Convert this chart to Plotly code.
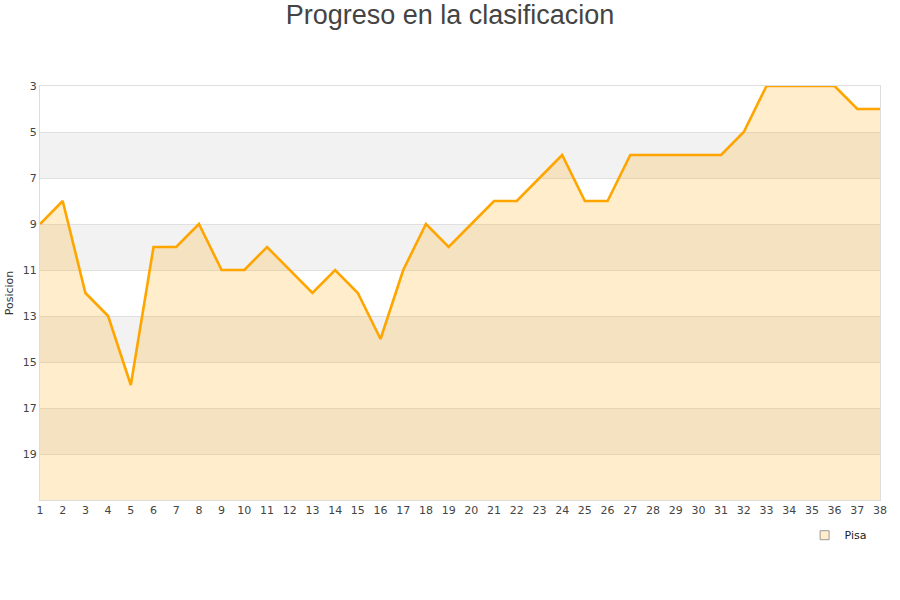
import plotly.graph_objects as go

jornadas = list(range(1, 39))
posiciones = [9, 8, 12, 13, 16, 10, 10, 9, 11, 11, 10, 11, 12, 11, 12, 14, 11, 9, 10, 9,
              8, 8, 7, 6, 8, 8, 6, 6, 6, 6, 6, 5, 3, 3, 3, 3, 4, 4]
equipo = "Pisa"
y_ticks = [3, 5, 7, 9, 11, 13, 15, 17, 19]
y_min, y_max = 3, 21
bandas = [(5, 7), (9, 11), (13, 15), (17, 19)]

fig = go.Figure()
fig.add_trace(go.Scatter(x=jornadas, y=[y_max] * len(jornadas), mode="lines",
                         line=dict(width=0), showlegend=False, hoverinfo="skip"))
fig.add_trace(go.Scatter(x=jornadas, y=posiciones, mode="lines", fill="tonexty",
                         fillcolor="rgba(255,165,0,0.2)",
                         line=dict(color="#FFA500", width=2.6), showlegend=False, name=equipo))
fig.add_trace(go.Scatter(x=[None], y=[None], mode="markers", name=equipo,
                         marker=dict(symbol="square", size=9, color="#FFEDCC",
                                     line=dict(color="#999999", width=1))))

shapes = [dict(type="rect", xref="paper", yref="y", x0=0, x1=1, y0=a, y1=b,
               fillcolor="#F2F2F2", line=dict(width=0), layer="below") for a, b in bandas]

fig.update_layout(
    width=900, height=600,
    margin=dict(l=40, r=20, t=86, b=100, autoexpand=False),
    paper_bgcolor="white", plot_bgcolor="white",
    title=dict(text="Progreso en la clasificacion", x=0.5, xanchor="center", y=0.975, yanchor="middle",
               font=dict(family="Liberation Sans, Arial", size=27, color="#444444")),
    font=dict(family="DejaVu Sans", size=11, color="#444444"),
    shapes=shapes,
    showlegend=True,
    legend=dict(x=0.99, xanchor="right", y=-0.05, yanchor="top", bgcolor="rgba(0,0,0,0)",
                font=dict(family="DejaVu Sans", size=11, color="#222222"), itemwidth=30),
    xaxis=dict(range=[1, 38], tickmode="array", tickvals=jornadas, showgrid=False,
               zeroline=False, showline=True, linecolor="#DDDDDD", linewidth=1, mirror=True,
               ticks="", automargin=False, tickfont=dict(size=11, color="#444444")),
    yaxis=dict(range=[y_max, y_min], tickmode="array", tickvals=y_ticks, showgrid=True,
               gridcolor="#E0E0E0", gridwidth=1, zeroline=False, showline=True,
               linecolor="#DDDDDD", linewidth=1, mirror=True, ticks="", automargin=False,
               tickfont=dict(size=11, color="#444444"),
               title=dict(text="Posicion", font=dict(size=11, color="#333333"), standoff=6)),
)

fig.write_html("out.html", config={"displayModeBar": False},
               post_script="document.body.style.margin='0px';")
